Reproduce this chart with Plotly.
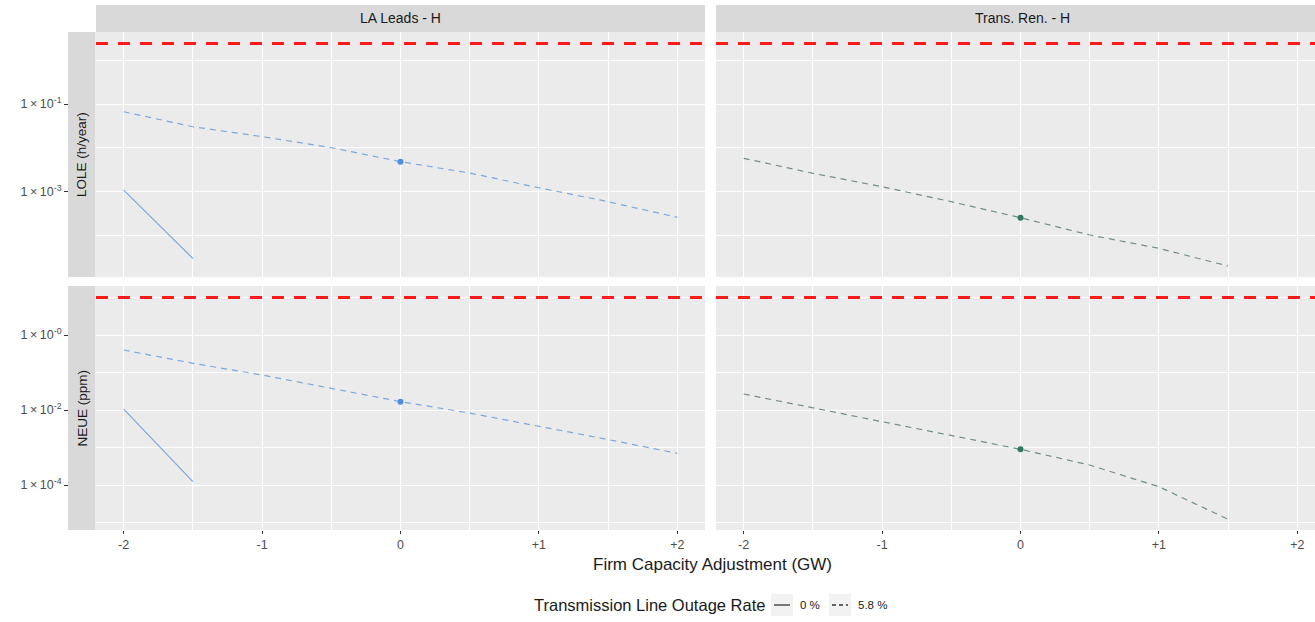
import plotly.graph_objects as go

# ---------------- data ----------------
x_adj = [-2, -1.5, -1, -0.5, 0, 0.5, 1, 1.5, 2]
x_adj_tr = [-2, -1.5, -1, -0.5, 0, 0.5, 1, 1.5]
x_adj_0 = [-2, -1.5]

lole_la_58 = [0.0667, 0.0303, 0.0180, 0.0101, 0.00483, 0.00267, 0.00123, 0.000592, 0.000261]
lole_la_0 = [0.00109, 3.0e-5]
lole_tr_58 = [0.00578, 0.00263, 0.00130, 0.000592, 0.000255, 0.000103, 5.12e-5, 2.02e-5]

neue_la_58 = [0.398, 0.176, 0.0857, 0.038, 0.0167, 0.0083, 0.00374, 0.00163, 0.0007]
neue_la_0 = [0.0105, 1.23e-4]
neue_tr_58 = [0.0267, 0.0115, 0.0049, 0.00215, 0.000895, 0.000341, 9.0e-5, 1.22e-5]

lole_standard = 2.4
neue_standard = 10

x_point = [0]
lole_la_point = [0.00483]
lole_tr_point = [0.000255]
neue_la_point = [0.0167]
neue_tr_point = [0.000895]

col_labels = ["LA Leads - H", "Trans. Ren. - H"]
row_labels = ["LOLE (h/year)", "NEUE (ppm)"]
x_tickvals = [-2, -1, 0, 1, 2]
x_ticktext = ["-2", "-1", "0", "+1", "+2"]
lole_tickvals = [0.1, 0.001]
lole_ticktext = ["1\u2009×\u200910<sup>-1</sup>", "1\u2009×\u200910<sup>-3</sup>"]
neue_tickvals = [1, 0.01, 0.0001]
neue_ticktext = ["1\u2009×\u200910<sup>-0</sup>", "1\u2009×\u200910<sup>-2</sup>", "1\u2009×\u200910<sup>-4</sup>"]
legend_title = "Transmission Line Outage Rate"
legend_labels = ["0 %", "5.8 %"]

# ---------------- geometry ----------------
W, H = 1315, 622
def px(v):
    return v / W
def py(v):
    return 1 - v / H

LA_LINE = "rgba(86,146,214,0.75)"
LA_PT = "#4a8fd8"
TR_LINE = "rgba(95,125,112,0.85)"
TR_PT = "#2f7a5c"
RED = "#ff1a1a"

x_range_left = [-2.2, 2.2]
x_range_right = [-2.2, 2.128]

FONT = "Liberation Sans, Arial, sans-serif"

fig = go.Figure()

def add_line(x, y, xa, ya, color, dash):
    fig.add_trace(go.Scatter(x=x, y=y, mode="lines", xaxis=xa, yaxis=ya,
                             line=dict(color=color, width=1.2, dash=dash),
                             showlegend=False, hoverinfo="skip"))

def add_pt(x, y, xa, ya, color):
    fig.add_trace(go.Scatter(x=x, y=y, mode="markers", xaxis=xa, yaxis=ya,
                             marker=dict(color=color, size=6),
                             showlegend=False))

def add_std(val, xa, ya):
    fig.add_trace(go.Scatter(x=x_range_left, y=[val, val], mode="lines", xaxis=xa, yaxis=ya,
                             line=dict(color=RED, width=3, dash="12px,10px"),
                             showlegend=False, hoverinfo="skip"))

# top-left
add_std(lole_standard, "x", "y")
add_line(x_adj, lole_la_58, "x", "y", LA_LINE, "6px,5px")
add_line(x_adj_0, lole_la_0, "x", "y", LA_LINE, "solid")
add_pt(x_point, lole_la_point, "x", "y", LA_PT)
# top-right
add_std(lole_standard, "x2", "y2")
add_line(x_adj_tr, lole_tr_58, "x2", "y2", TR_LINE, "6px,5px")
add_pt(x_point, lole_tr_point, "x2", "y2", TR_PT)
# bottom-left
add_std(neue_standard, "x3", "y3")
add_line(x_adj, neue_la_58, "x3", "y3", LA_LINE, "6px,5px")
add_line(x_adj_0, neue_la_0, "x3", "y3", LA_LINE, "solid")
add_pt(x_point, neue_la_point, "x3", "y3", LA_PT)
# bottom-right
add_std(neue_standard, "x4", "y4")
add_line(x_adj_tr, neue_tr_58, "x4", "y4", TR_LINE, "6px,5px")
add_pt(x_point, neue_tr_point, "x4", "y4", TR_PT)

# ---------------- axes ----------------
dom_left = [px(96), px(705)]
dom_right = [px(716), 1.0]
dom_top = [py(277), py(32)]
dom_bot = [py(530), py(286)]

tick_font = dict(family=FONT, size=12.5, color="#4d4d4d")

def xaxis(domain, rng, anchor, show):
    return dict(domain=domain, range=rng, anchor=anchor, showgrid=True, gridcolor="white",
                gridwidth=1.1, zeroline=False, showline=False,
                tickmode="array", tickvals=x_tickvals, ticktext=x_ticktext,
                showticklabels=show, ticks="outside" if show else "", ticklen=3,
                tickcolor="#333333", tickwidth=1, tickfont=tick_font,
                minor=dict(tickmode="array", tickvals=[-1.5, -0.5, 0.5, 1.5], showgrid=True,
                           gridcolor="white", gridwidth=0.55, ticks=""),
                fixedrange=True)

def yaxis(domain, rng, tv, tt, mv, left, anchor):
    d = dict(domain=domain, type="log", range=rng, showgrid=True, gridcolor="white",
             gridwidth=1.1, zeroline=False, showline=False,
             tickmode="array", tickvals=tv, ticktext=tt,
             minor=dict(tickmode="array", tickvals=mv, showgrid=True,
                        gridcolor="white", gridwidth=0.55, ticks=""),
             tickfont=tick_font, fixedrange=True)
    if left:
        d.update(anchor="free", position=px(68), ticks="outside", ticklen=4,
                 tickcolor="#333333", tickwidth=1, showticklabels=True)
    else:
        d.update(anchor=anchor, ticks="", showticklabels=False)
    return d

lole_range = [-4.945, 0.642]
neue_range = [-5.2, 1.307]
lole_minor = [1, 0.01, 0.0001]
neue_minor = [10, 0.1, 0.001, 0.00001]

fig.update_layout(
    xaxis=xaxis(dom_left, x_range_left, "y", False),
    xaxis2=xaxis(dom_right, x_range_right, "y2", False),
    xaxis3=xaxis(dom_left, x_range_left, "y3", True),
    xaxis4=xaxis(dom_right, x_range_right, "y4", True),
    yaxis=yaxis(dom_top, lole_range, lole_tickvals, lole_ticktext, lole_minor, True, "x"),
    yaxis2=yaxis(dom_top, lole_range, lole_tickvals, lole_ticktext, lole_minor, False, "x2"),
    yaxis3=yaxis(dom_bot, neue_range, neue_tickvals, neue_ticktext, neue_minor, True, "x3"),
    yaxis4=yaxis(dom_bot, neue_range, neue_tickvals, neue_ticktext, neue_minor, False, "x4"),
)

# ---------------- strips ----------------
STRIP = "#d9d9d9"
shapes = []
annotations = []
strip_font = dict(family=FONT, size=14, color="#1a1a1a")
row_font = dict(family=FONT, size=13.5, color="#1a1a1a")
for dom, lab in zip([dom_left, dom_right], col_labels):
    shapes.append(dict(type="rect", xref="paper", yref="paper", x0=dom[0], x1=dom[1],
                       y0=py(32), y1=py(5), fillcolor=STRIP, line=dict(width=0), layer="below"))
    annotations.append(dict(xref="paper", yref="paper", x=(dom[0] + dom[1]) / 2 if dom[1] < 1 else px(1022),
                            y=py(18.5), text=lab, showarrow=False, font=strip_font,
                            xanchor="center", yanchor="middle"))
for dom, lab in zip([dom_top, dom_bot], row_labels):
    shapes.append(dict(type="rect", xref="paper", yref="paper", x0=px(68), x1=px(95.5),
                       y0=dom[0], y1=dom[1], fillcolor=STRIP, line=dict(width=0), layer="below"))
    annotations.append(dict(xref="paper", yref="paper", x=px(81.5), y=(dom[0] + dom[1]) / 2,
                            text=lab, showarrow=False, font=row_font, textangle=-90,
                            xanchor="center", yanchor="middle"))

# x title
annotations.append(dict(xref="paper", yref="paper", x=px(712), y=py(564), text="Firm Capacity Adjustment (GW)",
                        showarrow=False, xanchor="center", yanchor="middle",
                        font=dict(family=FONT, size=17, color="#1a1a1a")))

# ---------------- legend (manual) ----------------
leg_y = 605
annotations.append(dict(xref="paper", yref="paper", x=px(767), y=py(leg_y), text=legend_title,
                        showarrow=False, xanchor="right", yanchor="middle",
                        font=dict(family=FONT, size=16.5, color="#1a1a1a")))
key_boxes = [(771, 793), (829, 851)]
key_dash = ["solid", "dash"]
key_text_x = [798, 856]
for (k0, k1), dsh, tx, lab in zip(key_boxes, key_dash, key_text_x, legend_labels):
    shapes.append(dict(type="rect", xref="paper", yref="paper", x0=px(k0), x1=px(k1),
                       y0=py(leg_y + 11), y1=py(leg_y - 11), fillcolor="#f2f2f2", line=dict(width=0)))
    shapes.append(dict(type="line", xref="paper", yref="paper", x0=px(k0 + 3), x1=px(k1 - 3),
                       y0=py(leg_y), y1=py(leg_y),
                       line=dict(color="#333333", width=1.3, dash="4px,3px" if dsh == "dash" else "solid")))
    annotations.append(dict(xref="paper", yref="paper", x=px(tx), y=py(leg_y), text=lab,
                            showarrow=False, xanchor="left", yanchor="middle",
                            font=dict(family=FONT, size=11.5, color="#1a1a1a")))

fig.update_layout(
    width=W, height=H, margin=dict(l=0, r=0, t=0, b=0),
    paper_bgcolor="white", plot_bgcolor="#ebebeb",
    shapes=shapes, annotations=annotations, showlegend=False,
    font=dict(family=FONT),
)

fig.write_html("out.html", config={"displayModeBar": False},
               post_script="document.body.style.margin='0px';")
